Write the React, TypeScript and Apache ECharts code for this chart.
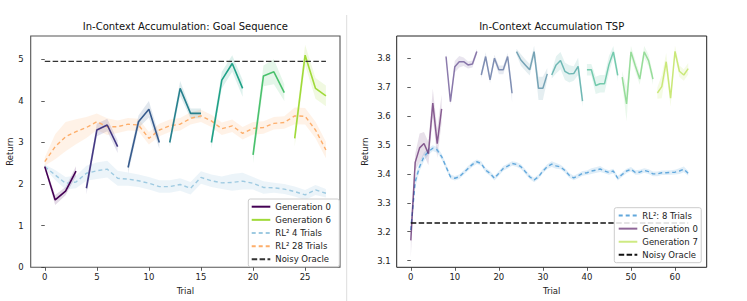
import React, { useEffect, useRef } from "react";
import * as echarts from "echarts";

const FONT = "'DejaVu Sans', 'Noto Sans', sans-serif";

// ---------------- Left: Goal Sequence ----------------
const GS_TITLE = "In-Context Accumulation: Goal Sequence";
const GS_X_TICKS = [0, 5, 10, 15, 20, 25];
const GS_Y_TICKS = [0, 1, 2, 3, 4, 5];
const GS_TRIALS = Array.from({ length: 28 }, (_, i) => i);
const GS_GEN_LENGTH = 4;
const GS_GEN_VALUES = [
  [2.42, 1.62, 1.83, 2.31],
  [1.9, 3.3, 3.42, 2.9],
  [2.4, 3.5, 3.8, 3.0],
  [3.0, 4.3, 3.7, 3.7],
  [3.0, 4.5, 4.9, 4.3],
  [2.7, 4.6, 4.7, 4.2],
  [3.1, 5.1, 4.3, 4.12],
];
const GS_GEN_SPREAD = [
  [0.06, 0.12, 0.1, 0.12],
  [0.15, 0.15, 0.15, 0.15],
  [0.15, 0.15, 0.2, 0.15],
  [0.1, 0.18, 0.12, 0.12],
  [0.15, 0.2, 0.2, 0.2],
  [0.2, 0.25, 0.3, 0.2],
  [0.2, 0.25, 0.25, 0.25],
];
const GS_GEN_COLORS = ["#440154", "#443983", "#375b8d", "#27808e", "#1fa187", "#4ac16d", "#a0da39"];
const GS_RL4 = [
  2.42, 2.22, 2.02, 2.05, 2.26, 2.32, 2.36, 2.14, 2.12, 2.08, 2.02, 1.94, 1.94, 1.99,
  1.9, 2.16, 2.08, 2.03, 2.04, 2.07, 2.02, 1.92, 1.91, 1.88, 1.82, 1.74, 1.86, 1.78,
];
const GS_RL4_SPREAD = [
  0.05, 0.12, 0.15, 0.15, 0.18, 0.2, 0.2, 0.18, 0.16, 0.15, 0.15, 0.15, 0.15, 0.15,
  0.15, 0.15, 0.15, 0.15, 0.2, 0.2, 0.15, 0.15, 0.12, 0.12, 0.12, 0.12, 0.12, 0.1,
];
const GS_RL28 = [
  2.54, 2.9, 3.14, 3.26, 3.36, 3.5, 3.38, 3.38, 3.44, 3.42, 3.1, 3.3, 3.4, 3.44,
  3.58, 3.64, 3.52, 3.33, 3.4, 3.22, 3.34, 3.36, 3.46, 3.48, 3.64, 3.63, 3.3, 2.82,
];
const GS_RL28_SPREAD = [
  0.1, 0.3, 0.35, 0.3, 0.25, 0.2, 0.2, 0.15, 0.15, 0.15, 0.15, 0.15, 0.15, 0.15,
  0.15, 0.15, 0.15, 0.15, 0.15, 0.15, 0.15, 0.15, 0.15, 0.15, 0.2, 0.2, 0.2, 0.2,
];
const GS_ORACLE = 4.95;

// ---------------- Right: TSP ----------------
const TSP_TITLE = "In-Context Accumulation TSP";
const TSP_X_TICKS = [0, 10, 20, 30, 40, 50, 60];
const TSP_Y_TICKS = [3.1, 3.2, 3.3, 3.4, 3.5, 3.6, 3.7, 3.8];
const TSP_TRIALS = Array.from({ length: 64 }, (_, i) => i);
const TSP_GEN_LENGTH = 8;
const TSP_GEN_VALUES = [
  [3.17, 3.44, 3.49, 3.505, 3.47, 3.645, 3.505, 3.625],
  [3.806, 3.65, 3.771, 3.788, 3.788, 3.777, 3.78, 3.823],
  [3.742, 3.806, 3.725, 3.8, 3.76, 3.76, 3.806, 3.679],
  [3.823, 3.794, 3.777, 3.76, 3.823, 3.696, 3.696, 3.746],
  [3.742, 3.777, 3.792, 3.755, 3.746, 3.747, 3.772, 3.652],
  [3.76, 3.76, 3.706, 3.712, 3.712, 3.778, 3.822, 3.741],
  [3.735, 3.642, 3.822, 3.773, 3.728, 3.822, 3.792, 3.728],
  [3.68, 3.702, 3.788, 3.662, 3.824, 3.755, 3.742, 3.764],
];
const TSP_GEN_SPREAD = [
  [0.06, 0.03, 0.05, 0.04, 0.04, 0.05, 0.05, 0.05],
  [0.01, 0.012, 0.02, 0.02, 0.015, 0.012, 0.012, 0.01],
  [0.012, 0.015, 0.012, 0.012, 0.015, 0.015, 0.012, 0.03],
  [0.01, 0.02, 0.02, 0.02, 0.02, 0.04, 0.04, 0.02],
  [0.012, 0.03, 0.03, 0.03, 0.03, 0.025, 0.03, 0.02],
  [0.02, 0.02, 0.03, 0.03, 0.03, 0.03, 0.02, 0.02],
  [0.02, 0.06, 0.02, 0.02, 0.02, 0.02, 0.02, 0.02],
  [0.02, 0.04, 0.03, 0.03, 0.02, 0.02, 0.02, 0.02],
];
const TSP_GEN_COLORS = ["#440154", "#472d7b", "#3b528b", "#2c728e", "#21918c", "#28ae80", "#5ec962", "#addc30"];
const TSP_RL8 = [
  3.206, 3.373, 3.425, 3.46, 3.477, 3.489, 3.483, 3.46,
  3.425, 3.39, 3.385, 3.39, 3.404, 3.419, 3.433, 3.442,
  3.436, 3.413, 3.402, 3.385, 3.402, 3.419, 3.427, 3.436,
  3.433, 3.425, 3.408, 3.39, 3.379, 3.39, 3.41, 3.425,
  3.434, 3.428, 3.424, 3.412, 3.395, 3.386, 3.393, 3.402,
  3.404, 3.41, 3.413, 3.417, 3.41, 3.405, 3.41, 3.385,
  3.398, 3.41, 3.416, 3.405, 3.406, 3.412, 3.408, 3.4,
  3.4, 3.404, 3.404, 3.405, 3.406, 3.41, 3.416, 3.402,
];
const TSP_RL8_SPREAD = [
  0.03, 0.02, 0.015, 0.015, 0.012, 0.01, 0.01, 0.01,
  0.01, 0.008, 0.008, 0.008, 0.008, 0.008, 0.008, 0.008,
  0.008, 0.008, 0.008, 0.008, 0.008, 0.008, 0.008, 0.008,
  0.008, 0.008, 0.008, 0.008, 0.008, 0.008, 0.008, 0.008,
  0.01, 0.01, 0.008, 0.008, 0.008, 0.008, 0.008, 0.008,
  0.008, 0.01, 0.01, 0.01, 0.008, 0.008, 0.008, 0.008,
  0.008, 0.008, 0.008, 0.008, 0.008, 0.008, 0.008, 0.008,
  0.008, 0.008, 0.008, 0.008, 0.008, 0.01, 0.01, 0.008,
];
const TSP_ORACLE = 3.23;

function rgba(hex: string, a: number) {
  const n = parseInt(hex.slice(1), 16);
  return `rgba(${(n >> 16) & 255},${(n >> 8) & 255},${n & 255},${a})`;
}

function band(name: string, xs: number[], ys: number[], spread: number[], fill: string, axis: number) {
  return {
    type: "custom",
    name,
    xAxisIndex: axis,
    yAxisIndex: axis,
    silent: true,
    clip: true,
    z: 1,
    data: [[xs[0], ys[0]]],
    renderItem: (_p: any, api: any) => {
      const pts: number[][] = [];
      for (let i = 0; i < xs.length; i++) pts.push(api.coord([xs[i], ys[i] + spread[i]]));
      for (let i = xs.length - 1; i >= 0; i--) pts.push(api.coord([xs[i], ys[i] - spread[i]]));
      return { type: "polygon", shape: { points: pts }, style: { fill } };
    },
  };
}

function line(name: string, xs: number[], ys: number[], color: string, axis: number, width: number, dash?: number[], opacity = 1) {
  return {
    type: "line",
    name,
    xAxisIndex: axis,
    yAxisIndex: axis,
    data: xs.map((x, i) => [x, ys[i]]),
    symbol: "none",
    showSymbol: false,
    silent: true,
    z: 3,
    itemStyle: { color, opacity },
    lineStyle: { color, width, type: dash || "solid", opacity },
    emphasis: { disabled: true },
  };
}

function xAxisCfg(grid: number, min: number, max: number, ticks: number[]) {
  return {
    type: "value",
    gridIndex: grid,
    min,
    max,
    name: "Trial",
    nameLocation: "middle",
    nameGap: 15.5,
    nameTextStyle: { fontSize: 8.5, color: "#222", fontFamily: FONT },
    axisLine: { show: false },
    splitLine: { show: false },
    axisTick: { show: true, length: 3.5, customValues: ticks, lineStyle: { color: "#333", width: 0.8 } },
    axisLabel: { customValues: ticks, fontSize: 8.5, color: "#222", margin: 5.5, fontFamily: FONT },
  };
}

function yAxisCfg(grid: number, min: number, max: number, ticks: number[], gap: number, margin: number) {
  return {
    type: "value",
    gridIndex: grid,
    min,
    max,
    name: "Return",
    nameLocation: "middle",
    nameGap: gap,
    nameTextStyle: { fontSize: 8.5, color: "#222", fontFamily: FONT },
    axisLine: { show: false },
    splitLine: { show: false },
    axisTick: { show: true, length: 3.5, customValues: ticks, lineStyle: { color: "#333", width: 0.8 } },
    axisLabel: { customValues: ticks, fontSize: 8.5, color: "#222", margin, fontFamily: FONT },
  };
}

const legendBase = {
  orient: "vertical",
  itemWidth: 18.6,
  itemHeight: 10,
  itemGap: 3.15,
  backgroundColor: "rgba(255,255,255,0.85)",
  borderColor: "#cccccc",
  borderWidth: 1,
  borderRadius: 2,
  selectedMode: false,
  itemStyle: { color: "transparent", borderColor: "transparent", borderWidth: 0, opacity: 0 },
  textStyle: { fontSize: 8.5, color: "#222", fontFamily: FONT, lineHeight: 10 },
};

export default function App() {
  const ref = useRef<HTMLDivElement>(null);
  useEffect(() => {
    if (!ref.current) return;
    const chart = echarts.init(ref.current, null, { renderer: "svg" });
    const series: any[] = [];

    // Left bands
    series.push(band("gs-rl28-band", GS_TRIALS, GS_RL28, GS_RL28_SPREAD, "rgba(253,174,107,0.16)", 0));
    series.push(band("gs-rl4-band", GS_TRIALS, GS_RL4, GS_RL4_SPREAD, "rgba(158,202,225,0.2)", 0));
    GS_GEN_VALUES.forEach((vals, g) => {
      const xs = GS_TRIALS.slice(g * GS_GEN_LENGTH, g * GS_GEN_LENGTH + vals.length);
      series.push(band("gs-gen-band-" + g, xs, vals, GS_GEN_SPREAD[g], rgba(GS_GEN_COLORS[g], 0.15), 0));
    });
    // Left lines
    series.push(line("RL² 28 Trials", GS_TRIALS, GS_RL28, "#fdae6b", 0, 1.4, [4, 3]));
    series.push(line("RL² 4 Trials", GS_TRIALS, GS_RL4, "#9ecae1", 0, 1.4, [4, 3]));
    GS_GEN_VALUES.forEach((vals, g) => {
      const xs = GS_TRIALS.slice(g * GS_GEN_LENGTH, g * GS_GEN_LENGTH + vals.length);
      series.push(line("Generation " + g, xs, vals, GS_GEN_COLORS[g], 0, 1.6));
    });
    series.push(
      line("Noisy Oracle", [GS_TRIALS[0], GS_TRIALS[GS_TRIALS.length - 1]], [GS_ORACLE, GS_ORACLE], "#333333", 0, 1.4, [5.5, 2.4])
    );

    // Right bands
    series.push(band("tsp-rl8-band", TSP_TRIALS, TSP_RL8, TSP_RL8_SPREAD, "rgba(98,168,220,0.2)", 1));
    TSP_GEN_VALUES.forEach((vals, g) => {
      const xs = TSP_TRIALS.slice(g * TSP_GEN_LENGTH, g * TSP_GEN_LENGTH + vals.length);
      series.push(band("tsp-gen-band-" + g, xs, vals, TSP_GEN_SPREAD[g], rgba(TSP_GEN_COLORS[g], 0.12), 1));
    });
    series.push(line("RL²: 8 Trials", TSP_TRIALS, TSP_RL8, "#62a8dc", 1, 1.4, [4, 3]));
    TSP_GEN_VALUES.forEach((vals, g) => {
      const xs = TSP_TRIALS.slice(g * TSP_GEN_LENGTH, g * TSP_GEN_LENGTH + vals.length);
      series.push(line("TSP Generation " + g, xs, vals, TSP_GEN_COLORS[g], 1, 1.5, undefined, 0.6));
    });
    series.push(
      line("TSP Noisy Oracle", [TSP_TRIALS[0], TSP_TRIALS[TSP_TRIALS.length - 1]], [TSP_ORACLE, TSP_ORACLE], "#111111", 1, 1.4, [5.5, 2.4])
    );

    chart.setOption({
      animation: false,
      backgroundColor: "#ffffff",
      textStyle: { fontFamily: FONT },
      title: [
        { text: GS_TITLE, left: 185.4, top: 21, textAlign: "center", padding: 0, textStyle: { fontSize: 10, fontWeight: "normal", color: "#111", fontFamily: FONT } },
        { text: TSP_TITLE, left: 551.7, top: 21, textAlign: "center", padding: 0, textStyle: { fontSize: 10, fontWeight: "normal", color: "#111", fontFamily: FONT } },
      ],
      grid: [
        { left: 30.7, top: 36, width: 309.3, height: 231.3, show: true, borderColor: "#555", borderWidth: 1.1, backgroundColor: "transparent", containLabel: false },
        { left: 396.7, top: 36, width: 310, height: 231.3, show: true, borderColor: "#222", borderWidth: 1, backgroundColor: "transparent", containLabel: false },
      ],
      xAxis: [xAxisCfg(0, -1.35, 28.35, GS_X_TICKS), xAxisCfg(1, -3.2, 67.2, TSP_X_TICKS)],
      yAxis: [yAxisCfg(0, 0, 5.56, GS_Y_TICKS, 15.5, 7), yAxisCfg(1, 3.077, 3.877, TSP_Y_TICKS, 27, 6)],
      legend: [
        {
          ...legendBase,
          left: 248.3,
          top: 199,
          padding: [2.7, 8.5, 2.4, 2.4],
          data: ["Generation 0", "Generation 6", "RL² 4 Trials", "RL² 28 Trials", "Noisy Oracle"],
        },
        {
          ...legendBase,
          left: 614.3,
          top: 207.7,
          padding: [2.85, 3.4, 2.85, 3.4],
          itemGap: 3.1,
          formatter: (name: string) => name.replace("TSP ", ""),
          data: ["RL²: 8 Trials", "TSP Generation 0", "TSP Generation 7", "TSP Noisy Oracle"],
        },
      ],
      graphic: [
        { type: "line", shape: { x1: 346.7, y1: 15, x2: 346.7, y2: 301 }, style: { stroke: "#dddddd", lineWidth: 1 }, silent: true },
      ],
      series,
    });
    return () => chart.dispose();
  }, []);
  return <div ref={ref} style={{ position: "absolute", left: 0, top: 0, width: 747, height: 301 }} />;
}
